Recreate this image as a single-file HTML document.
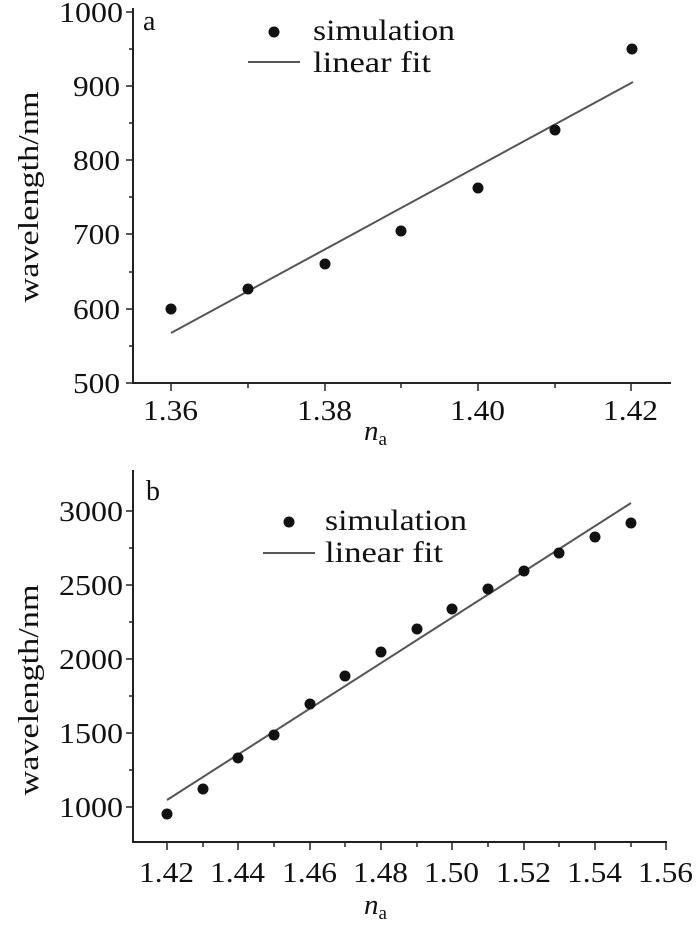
<!DOCTYPE html>
<html><head><style>body{margin:0;background:#fff} svg text{font-family:"Liberation Serif","Times New Roman",serif}</style></head><body>
<svg width="700" height="924" xmlns="http://www.w3.org/2000/svg" fill="#111">
<!-- Panel a -->
<g stroke="#222" stroke-width="2" fill="none">
<line x1="133" y1="8" x2="133" y2="384"/>
<line x1="132" y1="383" x2="671" y2="383"/>
</g>
<g stroke="#222" stroke-width="1.5">
<line x1="126" y1="12" x2="133" y2="12"/><line x1="129" y1="49" x2="133" y2="49"/>
<line x1="126" y1="86" x2="133" y2="86"/><line x1="129" y1="123" x2="133" y2="123"/>
<line x1="126" y1="160" x2="133" y2="160"/><line x1="129" y1="197" x2="133" y2="197"/>
<line x1="126" y1="234" x2="133" y2="234"/><line x1="129" y1="272" x2="133" y2="272"/>
<line x1="126" y1="309" x2="133" y2="309"/><line x1="129" y1="346" x2="133" y2="346"/>
<line x1="126" y1="383" x2="133" y2="383"/>
<line x1="171" y1="383" x2="171" y2="391"/><line x1="248" y1="383" x2="248" y2="388"/>
<line x1="325" y1="383" x2="325" y2="391"/><line x1="401" y1="383" x2="401" y2="388"/>
<line x1="478" y1="383" x2="478" y2="391"/><line x1="555" y1="383" x2="555" y2="388"/>
<line x1="631" y1="383" x2="631" y2="391"/>
</g>
<g font-size="29" text-anchor="end">
<text x="123" y="22" textLength="64" lengthAdjust="spacingAndGlyphs">1000</text>
<text x="120" y="96" textLength="47" lengthAdjust="spacingAndGlyphs">900</text>
<text x="120" y="170" textLength="47" lengthAdjust="spacingAndGlyphs">800</text>
<text x="120" y="244" textLength="47" lengthAdjust="spacingAndGlyphs">700</text>
<text x="120" y="319" textLength="47" lengthAdjust="spacingAndGlyphs">600</text>
<text x="120" y="393" textLength="47" lengthAdjust="spacingAndGlyphs">500</text>
</g>
<g font-size="29">
<text x="143" y="420" textLength="55" lengthAdjust="spacingAndGlyphs">1.36</text>
<text x="297" y="420" textLength="55" lengthAdjust="spacingAndGlyphs">1.38</text>
<text x="450" y="420" textLength="55" lengthAdjust="spacingAndGlyphs">1.40</text>
<text x="603" y="420" textLength="55" lengthAdjust="spacingAndGlyphs">1.42</text>
</g>
<text x="364" y="440" font-size="29" font-style="italic">n<tspan font-size="19" font-style="normal" dy="5">a</tspan></text>
<text transform="translate(38,197) rotate(-90)" font-size="29" text-anchor="middle" textLength="211" lengthAdjust="spacingAndGlyphs">wavelength/nm</text>
<text x="143" y="30" font-size="28">a</text>
<line x1="171" y1="333" x2="633" y2="82" stroke="#555" stroke-width="2"/>
<g>
<circle cx="171" cy="309" r="5.5"/><circle cx="248" cy="289" r="5.5"/><circle cx="325" cy="264" r="5.5"/>
<circle cx="401" cy="231" r="5.5"/><circle cx="478" cy="188" r="5.5"/><circle cx="555" cy="130" r="5.5"/>
<circle cx="632" cy="49" r="5.5"/>
</g>
<circle cx="274" cy="32" r="5.5"/>
<text x="313" y="40" font-size="30" textLength="142" lengthAdjust="spacingAndGlyphs">simulation</text>
<line x1="248" y1="62" x2="300" y2="62" stroke="#555" stroke-width="2"/>
<text x="313" y="72" font-size="30" textLength="118" lengthAdjust="spacingAndGlyphs">linear fit</text>

<!-- Panel b -->
<g stroke="#222" stroke-width="2" fill="none">
<line x1="133" y1="470" x2="133" y2="843"/>
<line x1="132" y1="842" x2="667" y2="842"/>
</g>
<g stroke="#222" stroke-width="1.5">
<line x1="126" y1="511" x2="133" y2="511"/><line x1="129" y1="548" x2="133" y2="548"/>
<line x1="126" y1="585" x2="133" y2="585"/><line x1="129" y1="622" x2="133" y2="622"/>
<line x1="126" y1="659" x2="133" y2="659"/><line x1="129" y1="696" x2="133" y2="696"/>
<line x1="126" y1="733" x2="133" y2="733"/><line x1="129" y1="770" x2="133" y2="770"/>
<line x1="126" y1="807" x2="133" y2="807"/>
<line x1="167" y1="842" x2="167" y2="850"/><line x1="203" y1="842" x2="203" y2="847"/>
<line x1="238" y1="842" x2="238" y2="850"/><line x1="274" y1="842" x2="274" y2="847"/>
<line x1="310" y1="842" x2="310" y2="850"/><line x1="345" y1="842" x2="345" y2="847"/>
<line x1="381" y1="842" x2="381" y2="850"/><line x1="417" y1="842" x2="417" y2="847"/>
<line x1="452" y1="842" x2="452" y2="850"/><line x1="488" y1="842" x2="488" y2="847"/>
<line x1="524" y1="842" x2="524" y2="850"/><line x1="559" y1="842" x2="559" y2="847"/>
<line x1="595" y1="842" x2="595" y2="850"/><line x1="631" y1="842" x2="631" y2="847"/>
<line x1="666" y1="842" x2="666" y2="850"/>
</g>
<g font-size="29" text-anchor="end">
<text x="123" y="521" textLength="64" lengthAdjust="spacingAndGlyphs">3000</text>
<text x="123" y="595" textLength="64" lengthAdjust="spacingAndGlyphs">2500</text>
<text x="123" y="669" textLength="64" lengthAdjust="spacingAndGlyphs">2000</text>
<text x="123" y="743" textLength="64" lengthAdjust="spacingAndGlyphs">1500</text>
<text x="123" y="817" textLength="64" lengthAdjust="spacingAndGlyphs">1000</text>
</g>
<g font-size="29">
<text x="139" y="882" textLength="55" lengthAdjust="spacingAndGlyphs">1.42</text>
<text x="210" y="882" textLength="55" lengthAdjust="spacingAndGlyphs">1.44</text>
<text x="282" y="882" textLength="55" lengthAdjust="spacingAndGlyphs">1.46</text>
<text x="353" y="882" textLength="55" lengthAdjust="spacingAndGlyphs">1.48</text>
<text x="424" y="882" textLength="55" lengthAdjust="spacingAndGlyphs">1.50</text>
<text x="496" y="882" textLength="55" lengthAdjust="spacingAndGlyphs">1.52</text>
<text x="567" y="882" textLength="55" lengthAdjust="spacingAndGlyphs">1.54</text>
<text x="638" y="882" textLength="55" lengthAdjust="spacingAndGlyphs">1.56</text>
</g>
<text x="364" y="914" font-size="29" font-style="italic">n<tspan font-size="19" font-style="normal" dy="5">a</tspan></text>
<text transform="translate(38,690) rotate(-90)" font-size="29" text-anchor="middle" textLength="211" lengthAdjust="spacingAndGlyphs">wavelength/nm</text>
<text x="146" y="500" font-size="28">b</text>
<line x1="167" y1="800" x2="631" y2="503" stroke="#555" stroke-width="2"/>
<g>
<circle cx="167" cy="814" r="5.5"/><circle cx="203" cy="789" r="5.5"/><circle cx="238" cy="758" r="5.5"/>
<circle cx="274" cy="735" r="5.5"/><circle cx="310" cy="704" r="5.5"/><circle cx="345" cy="676" r="5.5"/>
<circle cx="381" cy="652" r="5.5"/><circle cx="417" cy="629" r="5.5"/><circle cx="452" cy="609" r="5.5"/>
<circle cx="488" cy="589" r="5.5"/><circle cx="524" cy="571" r="5.5"/><circle cx="559" cy="553" r="5.5"/>
<circle cx="595" cy="537" r="5.5"/><circle cx="631" cy="523" r="5.5"/>
</g>
<circle cx="289" cy="522" r="5.5"/>
<text x="325" y="530" font-size="30" textLength="142" lengthAdjust="spacingAndGlyphs">simulation</text>
<line x1="263" y1="553" x2="315" y2="553" stroke="#555" stroke-width="2"/>
<text x="325" y="562" font-size="30" textLength="118" lengthAdjust="spacingAndGlyphs">linear fit</text>
</svg>
</body></html>
